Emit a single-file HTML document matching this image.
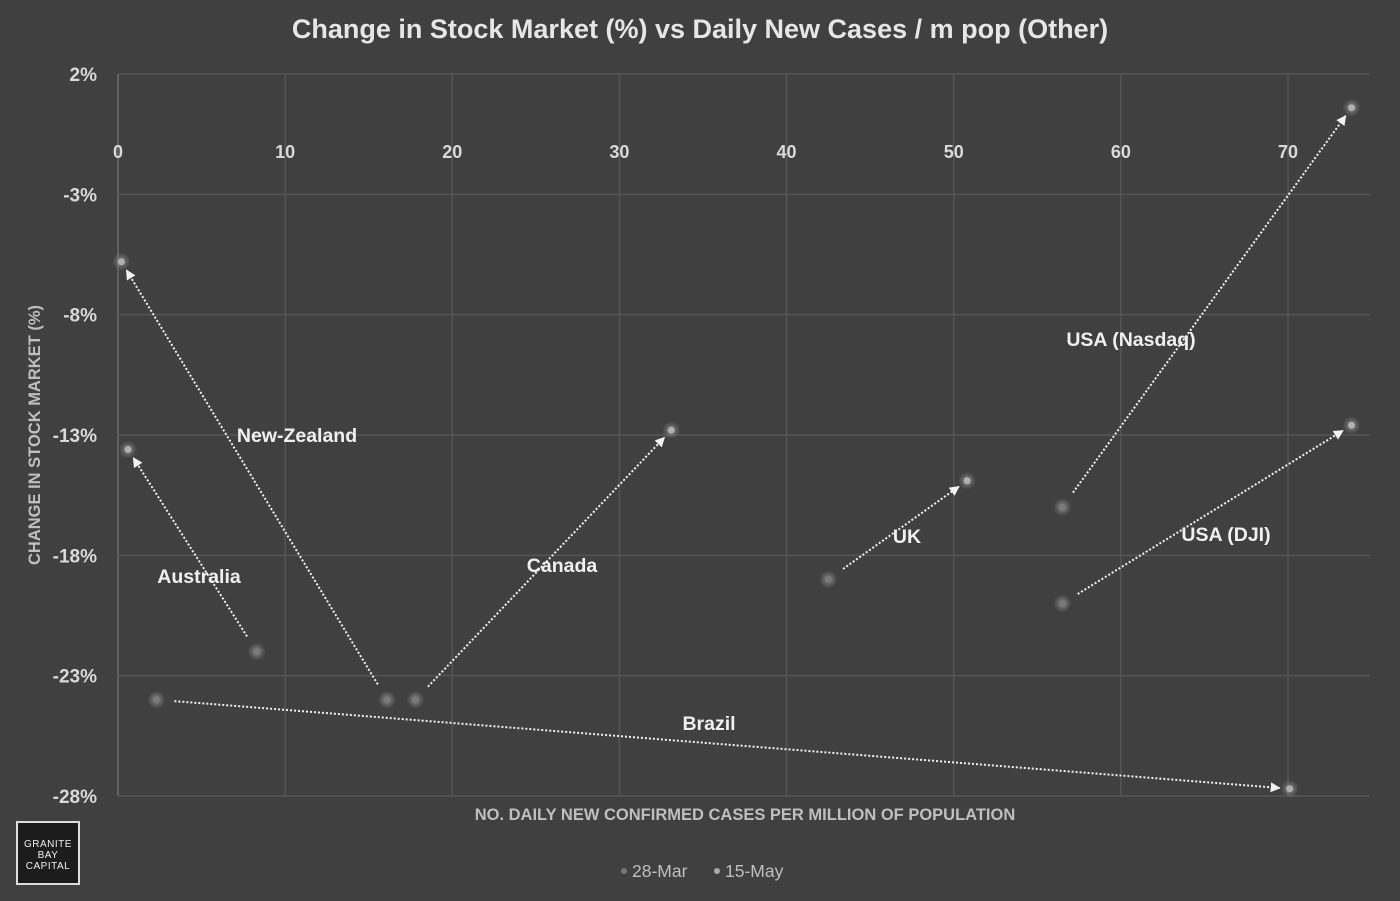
<!DOCTYPE html>
<html><head><meta charset="utf-8"><style>
body{margin:0;background:#404040;width:1400px;height:896px;overflow:hidden;font-family:"Liberation Sans",sans-serif}
svg text{font-family:"Liberation Sans",sans-serif}
</style></head><body>
<svg id="chart" width="1400" height="896">
<defs><marker id="ah" markerWidth="10" markerHeight="10" refX="9" refY="5" orient="auto" markerUnits="userSpaceOnUse" viewBox="0 0 10 10"><path d="M0,0 L10,5 L0,10 z" fill="#f2f2f2"/></marker>
<radialGradient id="glow"><stop offset="0.4" stop-color="#888" stop-opacity="0.6"/><stop offset="1" stop-color="#888" stop-opacity="0"/></radialGradient></defs>
<text x="700" y="38" text-anchor="middle" fill="#e6e6e6" font-size="27" font-weight="bold">Change in Stock Market (%) vs Daily New Cases / m pop (Other)</text>
<g id="grid"></g><g id="marks"></g>
<text transform="translate(40,435) rotate(-90)" text-anchor="middle" fill="#bfbfbf" font-size="16.5" font-weight="bold">CHANGE IN STOCK MARKET (%)</text>
<text x="745" y="820" text-anchor="middle" fill="#bfbfbf" font-size="16.5" font-weight="bold">NO. DAILY NEW CONFIRMED CASES PER MILLION OF POPULATION</text>
<g><rect x="17" y="822" width="62" height="62" fill="#1c1c1c" stroke="#ddd" stroke-width="2"/>
<text x="48" y="847" text-anchor="middle" fill="#eee" font-size="10" letter-spacing="0.5">GRANITE</text><text x="48" y="858" text-anchor="middle" fill="#eee" font-size="10" letter-spacing="0.5">BAY</text><text x="48" y="869" text-anchor="middle" fill="#eee" font-size="10" letter-spacing="0.5">CAPITAL</text></g>
<g><circle cx="624" cy="871" r="3" fill="#777"/><text x="632" y="877" fill="#bfbfbf" font-size="17.5">28-Mar</text>
<circle cx="717" cy="871" r="3" fill="#aaa"/><text x="725" y="877" fill="#bfbfbf" font-size="17.5">15-May</text></g>
</svg>
<script>
const xTicks=[0,10,20,30,40,50,60,70];
const yTicks=[2,-3,-8,-13,-18,-23,-28];
const countries=["Australia","New-Zealand","Canada","UK","USA (Nasdaq)","USA (DJI)","Brazil"];
const marchX=[8.3,16.1,17.8,42.5,56.5,56.5,2.3];
const marchY=[-22.0,-24.0,-24.0,-19.0,-16.0,-20.0,-24.0];
const mayX=[0.6,0.2,33.1,50.8,73.8,73.8,70.1];
const mayY=[-13.6,-5.8,-12.8,-14.9,0.6,-12.6,-27.7];
const labelPos=[[199,583],[297,442],[562,572],[907,543],[1131,346],[1226,541],[709,730]];
const L=118,R=1370,T=74,B=796;
const xs=v=>L+v*(1288-118)/70;
const ys=v=>T+(2-v)*(B-T)/30;
const NS="http://www.w3.org/2000/svg";
const g=document.getElementById('grid'),m=document.getElementById('marks');
function mk(tag,a,p){const e=document.createElementNS(NS,tag);for(const k in a)e.setAttribute(k,a[k]);p.appendChild(e);return e;}
xTicks.forEach(t=>{const x=xs(t);
 const l=mk('line',{x1:x,x2:x,y1:T,y2:B,stroke:t===0?'#6a6a6a':'#555','stroke-width':1.5},g);
 
 
 const tx=mk('text',{x:x,y:158,'text-anchor':'middle',fill:'#d9d9d9','font-size':18,'font-weight':'bold'},g);tx.textContent=t;
 
 });
yTicks.forEach(t=>{const y=ys(t);
 const l=mk('line',{x1:L,x2:R,y1:y,y2:y,stroke:'#555','stroke-width':1.5},g);
 
 
 const tx=mk('text',{x:97,y:y+7,'text-anchor':'end',fill:'#d9d9d9','font-size':19,'font-weight':'bold'},g);tx.textContent=t+'%';
 
 });
countries.forEach((c,i)=>{
 const x1=xs(marchX[i]),y1=ys(marchY[i]),x2=xs(mayX[i]),y2=ys(mayY[i]);
 const dx=x2-x1,dy=y2-y1,d=Math.hypot(dx,dy),ux=dx/d,uy=dy/d;
 const ln=mk('line',{x1:x1+ux*18,y1:y1+uy*18,x2:x2-ux*10,y2:y2-uy*10,stroke:'#f0f0f0','stroke-width':2,'stroke-dasharray':'2 2','marker-end':'url(#ah)'},m);
 
 
 mk('circle',{cx:x1,cy:y1,r:9,fill:'url(#glow)'},m);
 const p1=mk('circle',{cx:x1,cy:y1,r:3.5,fill:'#7a7a7a'},m);
 
 
 mk('circle',{cx:x2,cy:y2,r:9,fill:'url(#glow)'},m);
 const p2=mk('circle',{cx:x2,cy:y2,r:3.5,fill:'#b0b0b0'},m);
 
 
 const tx=mk('text',{x:labelPos[i][0],y:labelPos[i][1],'text-anchor':'middle',fill:'#f0f0f0','font-size':19.5,'font-weight':'bold'},m);tx.textContent=c;
 
 
});
</script>
</body></html>
